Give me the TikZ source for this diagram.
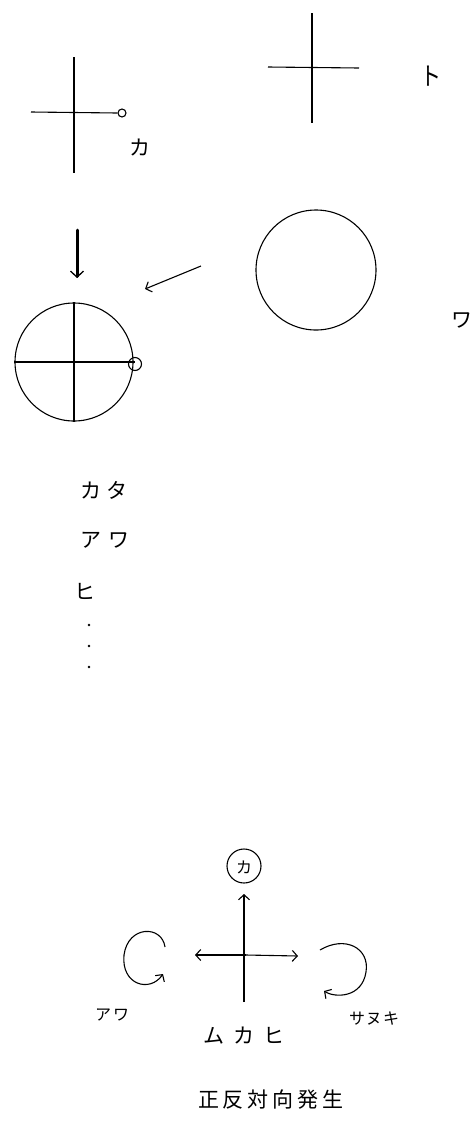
\documentclass[tikz,border=0pt]{standalone}
\usepackage{fontspec}
\newfontfamily\jp{Noto Sans CJK JP}
\usetikzlibrary{arrows.meta}
\begin{document}
\begin{tikzpicture}[x=1pt,y=-1pt,
  ln/.style={line width=1.1pt},
  lbl/.style={font=\jp\fontsize{21}{21}\selectfont, inner sep=0pt},
  slbl/.style={font=\jp\fontsize{16}{16}\selectfont, inner sep=0pt},
  barb/.style={-{Straight Barb[length=5pt,width=11pt,line width=1.1pt]}},
  dotm/.style={circle, fill, inner sep=0pt, minimum size=2.6pt}]
\useasboundingbox (0,0) rectangle (475,1128);
% top-left cross
\coordinate (a1) at (74,57); \coordinate (a2) at (74,173);
\coordinate (a3) at (31,112); \node[circle,draw,ln,inner sep=0pt,minimum size=8pt] (ac) at (122,113) {};
\draw[ln] (a1) -- (a2);
\draw[ln] (a3) -- (ac.west);
\node[lbl] (ka1) at (140,148) {カ};
% top-right cross
\coordinate (b1) at (312,13); \coordinate (b2) at (312,123);
\coordinate (b3) at (268,67); \coordinate (b4) at (359,68);
\draw[ln] (b1) -- (b2); \draw[ln] (b3) -- (b4);
\node[lbl,yscale=1.2] (to) at (431,76) {ト};
% arrows
\coordinate (d1) at (77,230); \coordinate (d2) at (77,278);
\draw[line width=3pt,line cap=round,-{Straight Barb[length=6pt,width=13pt,line width=1.3pt]}] (d1) -- (d2);
\coordinate (e1) at (201,266); \coordinate (e2) at (145,289);
\draw[ln,barb] (e1) -- (e2);
% right circle
\node[circle,draw,ln,minimum size=120pt,inner sep=0pt] (wc) at (316,270) {};
\node[lbl] (wa) at (462,320) {ワ};
% left circle
\node[circle,draw,ln,minimum size=118pt,inner sep=0pt] (lc) at (74,362) {};
\node[circle,draw,ln,inner sep=0pt,minimum size=13pt] (sc) at (135,364) {};
\draw[ln] (lc.north) -- (lc.south);
\draw[ln] (lc.west) -- (sc.center |- lc.west);
% list
\node[lbl] (t1) at (104,490) {カ\hspace{5pt}タ};
\node[lbl] (t2) at (105,540) {ア\hspace{7pt}ワ};
\node[lbl] (t3) at (85,591) {ヒ};
\node[dotm] (p1) at (89,625) {};
\node[dotm] (p2) at (89,646) {};
\node[dotm] (p3) at (89,667) {};
% bottom diagram
\node[circle,draw,ln,minimum size=34pt,inner sep=0pt] (kc) at (244,866) {};
\node[slbl] (ka2) at (244,867) {カ};
\coordinate (v1) at (244,1002); \coordinate (v2) at (244,894);
\draw[ln,barb] (v1) -- (v2);
\coordinate (hc) at (246,955);
\coordinate (h1) at (195,955); \coordinate (h2) at (298,956);
\draw[ln,barb] (hc) -- (h1);
\draw[ln,barb] (hc) -- (h2);
% curls
\coordinate (c1) at (165,947); \coordinate (c2) at (163,974);
\draw[ln,barb] (c1) .. controls (162,925) and (128,925) .. (124,955)
  .. controls (121,985) and (150,993) .. (c2);
\coordinate (r1) at (320,950); \coordinate (r2) at (324,991);
\draw[ln,barb] (r1) .. controls (345,935) and (370,948) .. (366,972)
  .. controls (362,998) and (335,998) .. (r2);
\node[slbl] (awa) at (112,1015) {ア\hspace{2pt}ワ};
\node[slbl] (san) at (374,1019) {サ\hspace{1pt}ヌ\hspace{1pt}キ};
\node[lbl] (muk) at (244,1036) {ム\hspace{9pt}カ\hspace{9pt}ヒ};
\node[lbl] (sei) at (271,1100) {正\hspace{4pt}反\hspace{4pt}対\hspace{4pt}向\hspace{4pt}発\hspace{4pt}生};
\end{tikzpicture}
\end{document}
